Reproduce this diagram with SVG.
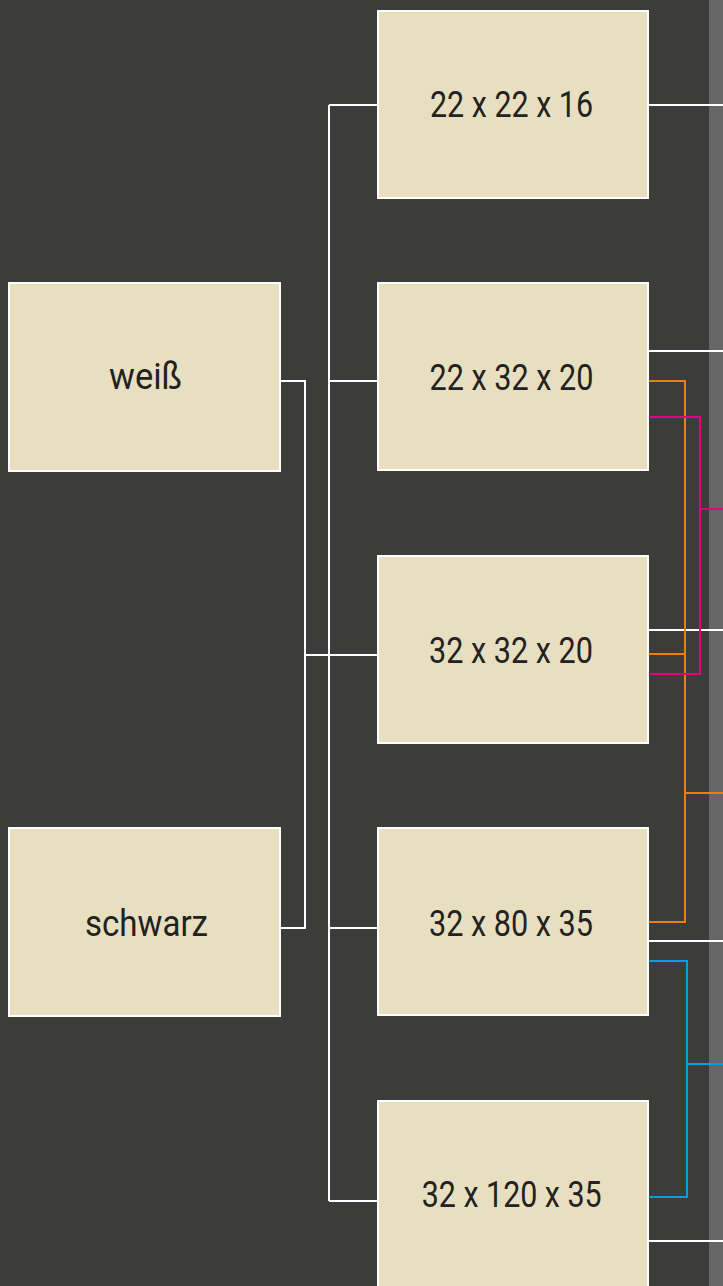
<svg xmlns="http://www.w3.org/2000/svg" width="723" height="1286" viewBox="0 0 723 1286">
<style>
.box{fill:#e8dfc0;stroke:#ffffff;stroke-width:2}
.lbl{font-family:Roboto,"Liberation Sans",sans-serif;font-size:37px;fill:#222222;text-anchor:middle}
.w{fill:none;stroke:#ffffff;stroke-width:2}
.o{fill:none;stroke:#ef7d00;stroke-width:2}
.m{fill:none;stroke:#e5007d;stroke-width:2}
.b{fill:none;stroke:#009fe3;stroke-width:2}
</style>
<rect x="0" y="0" width="723" height="1286" fill="#3c3c3b"/>
<rect x="709" y="0" width="14" height="1286" fill="#666666"/>
<g id="connectors">
<path class="w" d="M281 381 H305 V928 H281 M305 655 H378 M329 105 V1201 M329 105 H378 M329 381 H378 M329 928 H378 M329 1201 H378"/>
<path class="w" d="M649 105 H723 M649 351 H723 M649 630 H723 M649 941 H723 M649 1241 H723"/>
<path class="o" d="M649 381 H685 V922 H649 M649 654 H685 M685 793 H723"/>
<path class="m" d="M649 417 H700 V674 H649 M700 509 H723"/>
<path class="b" d="M649 961 H687 V1197 H649 M687 1064 H723"/>
</g>
<g id="weiss"><rect class="box" x="9" y="283" width="271" height="188"/><text class="lbl" x="145.5" y="389" textLength="73" lengthAdjust="spacingAndGlyphs">weiß</text></g>
<g id="schwarz"><rect class="box" x="9" y="828" width="271" height="188"/><text class="lbl" x="146.5" y="936" textLength="123" lengthAdjust="spacingAndGlyphs">schwarz</text></g>
<g id="n22x22x16"><rect class="box" x="378" y="11" width="270" height="187"/><text class="lbl" x="511.5" y="117" textLength="163" lengthAdjust="spacingAndGlyphs">22 x 22 x 16</text></g>
<g id="n22x32x20"><rect class="box" x="378" y="283" width="270" height="187"/><text class="lbl" x="511.5" y="390" textLength="164" lengthAdjust="spacingAndGlyphs">22 x 32 x 20</text></g>
<g id="n32x32x20"><rect class="box" x="378" y="556" width="270" height="187"/><text class="lbl" x="511" y="663" textLength="164" lengthAdjust="spacingAndGlyphs">32 x 32 x 20</text></g>
<g id="n32x80x35"><rect class="box" x="378" y="828" width="270" height="187"/><text class="lbl" x="511" y="936" textLength="164" lengthAdjust="spacingAndGlyphs">32 x 80 x 35</text></g>
<g id="n32x120x35"><rect class="box" x="378" y="1101" width="270" height="187"/><text class="lbl" x="511.7" y="1207" textLength="180" lengthAdjust="spacingAndGlyphs">32 x 120 x 35</text></g>
</svg>
